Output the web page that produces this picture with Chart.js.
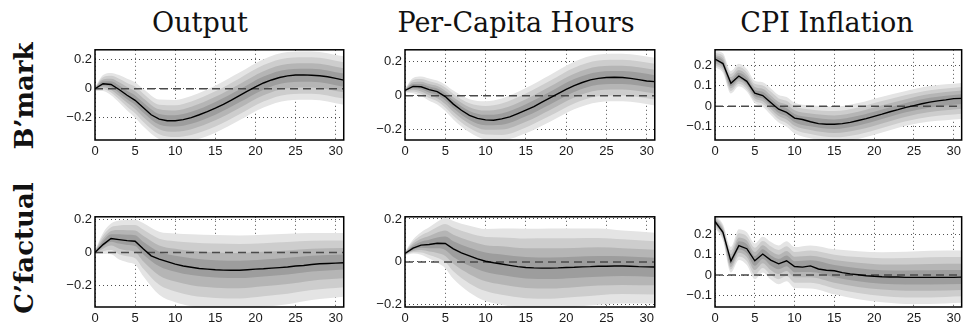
<!DOCTYPE html>
<html lang="en">
<head>
<meta charset="UTF-8">
<title>Impulse responses: B'mark vs C'factual</title>
<script src="https://cdn.jsdelivr.net/npm/chart.js"></script>
<style>
    body {
        margin: 0;
        width: 964px;
        height: 327px;
        overflow: hidden;
        position: relative;
        background: #fff;
        font-family: "DejaVu Serif", serif;
        color: #111;
    }
    .title {
        position: absolute;
        top: 7px;
        font-size: 27px;
        white-space: nowrap;
        transform: translateX(-50%);
    }
    .rowlab {
        position: absolute;
        font-size: 26px;
        font-weight: bold;
        white-space: nowrap;
        transform: translate(-50%, -50%) rotate(-90deg);
    }
    canvas { position: absolute; }
</style>
</head>
<body>
<div class="title" style="left:200px">Output</div>
<div class="title" style="left:516px">Per-Capita Hours</div>
<div class="title" style="left:827px">CPI Inflation</div>
<div class="rowlab" style="left:24px; top:96px">B’mark</div>
<div class="rowlab" style="left:24px; top:248px">C’factual</div>

<canvas id="c1"></canvas>
<canvas id="c2"></canvas>
<canvas id="c3"></canvas>
<canvas id="c4"></canvas>
<canvas id="c5"></canvas>
<canvas id="c6"></canvas>

<script>
// horizon (quarters) and tick values
const horizon = [0,1,2,3,4,5,6,7,8,9,10,11,12,13,14,15,16,17,18,19,20,21,22,23,24,25,26,27,28,29,30,31];
const xTicks = [0,5,10,15,20,25,30];
const ticksWide = [-0.2, 0, 0.2];
const ticksCpi = [-0.1, 0, 0.1, 0.2];
const zeroLevel = 0;

// horizons where the band edges were read
const gridA = [0,1,2,3,4,5,6,8,10,12,15,18,21,24,27,31];
const gridB = [0,1,2,3,4,5,6,7,8,9,10,12,15,18,21,24,27,31];

// median responses
const outputBm = [0.0,0.035,0.03,-0.005,-0.045,-0.08,-0.13,-0.18,-0.21,-0.222,-0.222,-0.214,-0.2,-0.18,-0.158,-0.134,-0.108,-0.079,-0.048,-0.017,0.013,0.04,0.061,0.078,0.089,0.095,0.096,0.094,0.09,0.083,0.072,0.06];
const hoursBm = [0.031,0.055,0.053,0.036,0.024,-0.005,-0.049,-0.085,-0.115,-0.133,-0.142,-0.144,-0.136,-0.124,-0.105,-0.085,-0.064,-0.038,-0.013,0.013,0.038,0.06,0.078,0.093,0.102,0.107,0.109,0.107,0.102,0.095,0.087,0.083];
const cpiBm = [0.23,0.208,0.112,0.147,0.121,0.064,0.052,0.018,-0.015,-0.03,-0.058,-0.065,-0.076,-0.085,-0.088,-0.088,-0.085,-0.079,-0.07,-0.061,-0.05,-0.039,-0.027,-0.017,-0.006,0.003,0.012,0.02,0.026,0.031,0.037,0.038];
const outputCf = [0.0,0.047,0.084,0.077,0.071,0.067,0.022,-0.021,-0.041,-0.056,-0.071,-0.082,-0.09,-0.097,-0.101,-0.105,-0.107,-0.108,-0.108,-0.105,-0.101,-0.099,-0.095,-0.092,-0.088,-0.082,-0.079,-0.073,-0.069,-0.067,-0.065,-0.063];
const hoursCf = [0.039,0.064,0.078,0.081,0.087,0.086,0.061,0.042,0.028,0.014,0.003,-0.004,-0.01,-0.016,-0.022,-0.026,-0.028,-0.029,-0.029,-0.028,-0.026,-0.025,-0.023,-0.022,-0.02,-0.02,-0.019,-0.019,-0.02,-0.022,-0.023,-0.024];
const cpiCf = [0.262,0.209,0.068,0.144,0.129,0.07,0.103,0.073,0.055,0.07,0.042,0.039,0.045,0.03,0.024,0.021,0.012,0.006,0.002,-0.003,-0.006,-0.008,-0.009,-0.009,-0.011,-0.011,-0.011,-0.011,-0.011,-0.011,-0.011,-0.01];

// band edges as distance above / below the median, innermost band first
const outputBmUp = [
    [0.003,0.016,0.022,0.027,0.031,0.034,0.035,0.036,0.039,0.04,0.042,0.043,0.045,0.045,0.045,0.045],
    [0.005,0.03,0.04,0.05,0.057,0.062,0.065,0.068,0.072,0.075,0.078,0.08,0.082,0.082,0.082,0.082],
    [0.008,0.045,0.06,0.075,0.085,0.095,0.098,0.1,0.108,0.112,0.116,0.12,0.124,0.124,0.124,0.124],
    [0.01,0.06,0.08,0.1,0.115,0.125,0.13,0.135,0.145,0.15,0.155,0.16,0.165,0.165,0.165,0.165]
];
const outputBmDn = [
    [0.004,0.014,0.02,0.024,0.028,0.032,0.035,0.038,0.04,0.043,0.046,0.046,0.046,0.046,0.046,0.046],
    [0.008,0.025,0.038,0.045,0.052,0.06,0.065,0.07,0.075,0.08,0.085,0.085,0.085,0.085,0.085,0.085],
    [0.011,0.038,0.056,0.068,0.079,0.09,0.098,0.105,0.112,0.12,0.128,0.128,0.128,0.128,0.128,0.128],
    [0.015,0.05,0.075,0.09,0.105,0.12,0.13,0.14,0.15,0.16,0.17,0.17,0.17,0.17,0.17,0.17]
];
const hoursBmUp = [
    [0.003,0.014,0.016,0.018,0.018,0.019,0.022,0.026,0.03,0.032,0.035,0.036,0.038,0.038,0.038,0.038],
    [0.005,0.025,0.03,0.033,0.033,0.035,0.04,0.048,0.055,0.06,0.065,0.068,0.07,0.07,0.07,0.07],
    [0.008,0.038,0.045,0.049,0.049,0.053,0.06,0.071,0.082,0.09,0.098,0.101,0.105,0.105,0.105,0.105],
    [0.01,0.05,0.06,0.065,0.065,0.07,0.08,0.095,0.11,0.12,0.13,0.135,0.14,0.14,0.14,0.14]
];
const hoursBmDn = [
    [0.003,0.011,0.015,0.018,0.02,0.023,0.024,0.027,0.031,0.034,0.036,0.038,0.038,0.038,0.038,0.038],
    [0.005,0.02,0.028,0.033,0.038,0.043,0.045,0.05,0.058,0.063,0.068,0.07,0.07,0.07,0.07,0.07],
    [0.008,0.03,0.041,0.049,0.056,0.064,0.068,0.075,0.086,0.094,0.101,0.105,0.105,0.105,0.105,0.105],
    [0.01,0.04,0.055,0.065,0.075,0.085,0.09,0.1,0.115,0.125,0.135,0.14,0.14,0.14,0.14,0.14]
];
const cpiBmUp = [
    [0.011,0.014,0.016,0.016,0.016,0.016,0.018,0.019,0.019,0.02,0.02,0.022,0.023,0.023,0.023,0.022,0.021,0.02],
    [0.02,0.025,0.03,0.03,0.03,0.03,0.033,0.035,0.035,0.038,0.038,0.04,0.043,0.043,0.043,0.04,0.039,0.038],
    [0.03,0.038,0.045,0.045,0.045,0.045,0.049,0.053,0.053,0.056,0.056,0.06,0.064,0.064,0.064,0.06,0.058,0.056],
    [0.04,0.05,0.06,0.06,0.06,0.06,0.065,0.07,0.07,0.075,0.075,0.08,0.085,0.085,0.085,0.08,0.078,0.075]
];
const cpiBmDn = [
    [0.011,0.012,0.014,0.014,0.014,0.014,0.015,0.016,0.018,0.019,0.02,0.022,0.023,0.024,0.024,0.024,0.026,0.027],
    [0.02,0.023,0.025,0.025,0.025,0.025,0.028,0.03,0.033,0.035,0.038,0.04,0.043,0.045,0.045,0.045,0.048,0.05],
    [0.03,0.034,0.038,0.038,0.038,0.038,0.041,0.045,0.049,0.053,0.056,0.06,0.064,0.068,0.068,0.068,0.071,0.075],
    [0.04,0.045,0.05,0.05,0.05,0.05,0.055,0.06,0.065,0.07,0.075,0.08,0.085,0.09,0.09,0.09,0.095,0.1]
];
const outputCfUp = [
    [0.003,0.02,0.025,0.032,0.035,0.036,0.042,0.045,0.05,0.055,0.058,0.058,0.056,0.055,0.052,0.05],
    [0.005,0.035,0.045,0.058,0.063,0.065,0.078,0.083,0.093,0.1,0.105,0.105,0.103,0.1,0.095,0.09],
    [0.008,0.053,0.068,0.086,0.094,0.098,0.116,0.124,0.139,0.15,0.158,0.158,0.154,0.15,0.143,0.135],
    [0.01,0.07,0.09,0.115,0.125,0.13,0.155,0.165,0.185,0.2,0.21,0.21,0.205,0.2,0.19,0.18]
];
const outputCfDn = [
    [0.002,0.011,0.019,0.024,0.026,0.028,0.033,0.043,0.046,0.047,0.047,0.047,0.046,0.045,0.043,0.041],
    [0.005,0.025,0.043,0.055,0.06,0.065,0.076,0.098,0.105,0.108,0.108,0.108,0.105,0.103,0.098,0.094],
    [0.008,0.04,0.07,0.088,0.095,0.102,0.12,0.155,0.165,0.17,0.17,0.17,0.166,0.162,0.155,0.148],
    [0.01,0.055,0.095,0.12,0.13,0.14,0.165,0.215,0.23,0.235,0.235,0.235,0.23,0.225,0.215,0.205]
];
const hoursCfUp = [
    [0.002,0.011,0.016,0.022,0.027,0.032,0.035,0.038,0.041,0.045,0.049,0.05,0.049,0.047,0.045,0.043],
    [0.004,0.02,0.03,0.04,0.05,0.06,0.065,0.07,0.075,0.083,0.09,0.093,0.09,0.088,0.083,0.08],
    [0.006,0.03,0.045,0.06,0.075,0.09,0.098,0.105,0.113,0.124,0.135,0.139,0.135,0.131,0.124,0.12],
    [0.008,0.04,0.06,0.08,0.1,0.12,0.13,0.14,0.15,0.165,0.18,0.185,0.18,0.175,0.165,0.16]
];
const hoursCfDn = [
    [0.002,0.007,0.012,0.018,0.024,0.031,0.038,0.046,0.05,0.051,0.051,0.051,0.05,0.049,0.047,0.046],
    [0.004,0.013,0.023,0.033,0.045,0.058,0.07,0.085,0.093,0.095,0.095,0.095,0.093,0.09,0.088,0.085],
    [0.006,0.019,0.034,0.049,0.068,0.086,0.105,0.128,0.139,0.143,0.143,0.143,0.139,0.135,0.131,0.128],
    [0.008,0.025,0.045,0.065,0.09,0.115,0.14,0.17,0.185,0.19,0.19,0.19,0.185,0.18,0.175,0.17]
];
const cpiCfUp = [
    [0.008,0.011,0.019,0.022,0.022,0.023,0.023,0.024,0.024,0.026,0.026,0.027,0.028,0.031,0.032,0.034,0.035,0.035],
    [0.015,0.02,0.035,0.04,0.04,0.043,0.043,0.045,0.045,0.048,0.048,0.05,0.053,0.058,0.06,0.063,0.065,0.065],
    [0.023,0.03,0.053,0.06,0.06,0.064,0.064,0.068,0.068,0.071,0.071,0.075,0.079,0.086,0.09,0.094,0.098,0.098],
    [0.03,0.04,0.07,0.08,0.08,0.085,0.085,0.09,0.09,0.095,0.095,0.1,0.105,0.115,0.12,0.125,0.13,0.13]
];
const cpiCfDn = [
    [0.008,0.011,0.015,0.019,0.022,0.024,0.024,0.026,0.027,0.027,0.028,0.03,0.031,0.032,0.034,0.035,0.035,0.034],
    [0.015,0.02,0.028,0.035,0.04,0.045,0.045,0.048,0.05,0.05,0.053,0.055,0.058,0.06,0.063,0.065,0.065,0.063],
    [0.023,0.03,0.041,0.053,0.06,0.068,0.068,0.071,0.075,0.075,0.079,0.083,0.086,0.09,0.094,0.098,0.098,0.094],
    [0.03,0.04,0.055,0.07,0.08,0.09,0.09,0.095,0.1,0.1,0.105,0.11,0.115,0.12,0.125,0.13,0.13,0.125]
];

// inner band darkest
const bandShades = ["#9d9d9d", "#b5b5b5", "#cdcdcd", "#e4e4e4"];

// canvas placement: plot box in page pixels
const padL = 40, padR = 2, padT = 4, padB = 21;
const panels = [
    { id: "c1", left: 95,  top: 43,  w: 250, h: 97, median: outputBm, grid: gridA, up: outputBmUp, dn: outputBmDn, yMin: -0.355, yMax: 0.27,  yTicks: ticksWide },
    { id: "c2", left: 405, top: 43,  w: 251, h: 97, median: hoursBm,  grid: gridA, up: hoursBmUp,  dn: hoursBmDn,  yMin: -0.26,  yMax: 0.27,  yTicks: ticksWide },
    { id: "c3", left: 715, top: 43,  w: 248, h: 97, median: cpiBm,    grid: gridB, up: cpiBmUp,    dn: cpiBmDn,    yMin: -0.165, yMax: 0.275, yTicks: ticksCpi },
    { id: "c4", left: 95,  top: 210, w: 250, h: 97, median: outputCf, grid: gridA, up: outputCfUp, dn: outputCfDn, yMin: -0.33,  yMax: 0.215, yTicks: ticksWide },
    { id: "c5", left: 405, top: 210, w: 251, h: 97, median: hoursCf,  grid: gridA, up: hoursCfUp,  dn: hoursCfDn,  yMin: -0.21,  yMax: 0.21,  yTicks: ticksWide },
    { id: "c6", left: 715, top: 210, w: 248, h: 97, median: cpiCf,    grid: gridB, up: cpiCfUp,    dn: cpiCfDn,    yMin: -0.156, yMax: 0.285, yTicks: ticksCpi }
];

// black box round the plot area
const frame = {
    id: "frame",
    afterDraw(chart) {
        const { ctx, chartArea: a } = chart;
        ctx.save();
        ctx.strokeStyle = "#000";
        ctx.lineWidth = 1.5;
        ctx.strokeRect(a.left, a.top, a.right - a.left, a.bottom - a.top);
        ctx.restore();
    }
};

function tickText(v) {
    if (v === 0) return "0";
    return (v < 0 ? "\u2212" : "") + Math.abs(v);
}

Chart.defaults.font.family = "'Liberation Sans', Arial, sans-serif";
Chart.defaults.font.size = 13;
Chart.defaults.color = "#1a1a1a";

function drawPanel(p) {
    const canvas = document.getElementById(p.id);
    canvas.width = p.w + padL + padR;
    canvas.height = p.h + padT + padB;
    canvas.style.left = (p.left - padL) + "px";
    canvas.style.top = (p.top - padT) + "px";

    const datasets = [];
    for (let k = 3; k >= 0; k--) {
        datasets.push({
            data: p.grid.map((h, i) => ({ x: h, y: p.median[h] - p.dn[k][i] })),
            borderColor: "rgba(0,0,0,0)", borderWidth: 0, pointRadius: 0,
            fill: false, order: 10 + k, cubicInterpolationMode: "monotone"
        });
        datasets.push({
            data: p.grid.map((h, i) => ({ x: h, y: p.median[h] + p.up[k][i] })),
            borderColor: "rgba(0,0,0,0)", borderWidth: 0, pointRadius: 0,
            fill: "-1", backgroundColor: bandShades[k], order: 10 + k,
            cubicInterpolationMode: "monotone"
        });
    }
    datasets.push({
        data: [{ x: horizon[0], y: zeroLevel }, { x: horizon[horizon.length - 1], y: zeroLevel }],
        borderColor: "#4a4a4a", borderWidth: 1.5, borderDash: [8, 5],
        pointRadius: 0, fill: false, order: 2
    });
    datasets.push({
        data: horizon.map(h => ({ x: h, y: p.median[h] })),
        borderColor: "#000", borderWidth: 1.4, pointRadius: 0,
        fill: false, order: 1, tension: 0
    });

    new Chart(canvas, {
        type: "line",
        data: { datasets: datasets },
        options: {
            responsive: false,
            animation: false,
            devicePixelRatio: 1,
            layout: { padding: { top: padT, right: padR, left: 0, bottom: 0 } },
            plugins: { legend: { display: false }, tooltip: { enabled: false } },
            scales: {
                x: {
                    type: "linear",
                    min: horizon[0],
                    max: horizon[horizon.length - 1],
                    afterBuildTicks: s => { s.ticks = xTicks.map(v => ({ value: v })); },
                    afterFit: s => { s.height = padB; },
                    ticks: { padding: 4, maxRotation: 0, autoSkip: false },
                    grid: { color: "#222", lineWidth: 0.8, drawTicks: false },
                    border: { display: false, dash: [1, 3] }
                },
                y: {
                    min: p.yMin,
                    max: p.yMax,
                    afterBuildTicks: s => { s.ticks = p.yTicks.map(v => ({ value: v })); },
                    afterFit: s => { s.width = padL; },
                    ticks: { padding: 3, callback: v => tickText(v) },
                    grid: { color: "#222", lineWidth: 0.8, drawTicks: false },
                    border: { display: false, dash: [1, 3] }
                }
            }
        },
        plugins: [frame]
    });
}

panels.forEach(drawPanel);
</script>
</body>
</html>
